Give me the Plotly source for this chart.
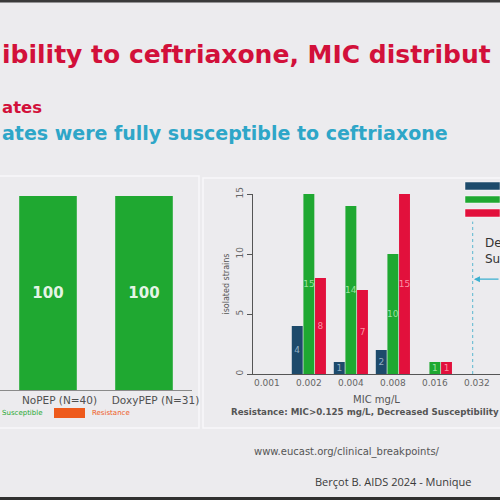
import plotly.graph_objects as go

# ---------------- data ----------------
left_categories = ["NoPEP (N=40)", "DoxyPEP (N=31)"]
left_susceptible = [100, 100]
left_resistance = [0, 0]

mic_categories = ["0.001", "0.002", "0.004", "0.008", "0.016", "0.032"]
series_blue = [0, 4, 1, 2, 0, 0]
series_green = [0, 15, 14, 10, 1, 0]
series_red = [0, 8, 7, 15, 1, 0]
y_ticks = [0, 5, 10, 15]

BG = "#ecebee"
BLUE = "#1d4a6b"
GREEN = "#1fa831"
RED = "#e2103c"
ORANGE = "#ee5a1c"
TITLE_RED = "#d2103a"
CYAN = "#2ea6c8"


def px(x):
    return x / 500.0


def py(y):
    return 1 - y / 500.0


def lbl(vals):
    return [str(v) if v else "" for v in vals]


left_pos = list(range(len(left_categories)))
LABEL_SHIFT = 0.12  # slide labels sit slightly right of their bars

fig = go.Figure()

# ---- left chart (manually stacked) ----
fig.add_trace(go.Bar(
    x=left_pos, y=left_susceptible, name="Susceptible",
    marker=dict(color=GREEN, line=dict(width=0)),
    width=0.6, offset=-0.3,
    text=[str(v) for v in left_susceptible], textposition="inside",
    insidetextanchor="middle", textangle=0,
    textfont=dict(family="DejaVu Sans", size=15, color="rgba(255,255,255,0.9)", weight="bold"),
    xaxis="x", yaxis="y", showlegend=False,
))
fig.add_trace(go.Bar(
    x=left_pos, y=left_resistance, base=left_susceptible, name="Resistance",
    marker=dict(color=ORANGE, line=dict(width=0)),
    width=0.6, offset=-0.3,
    xaxis="x", yaxis="y", showlegend=False,
))

# ---- right chart (grouped) ----
for vals, col, tcol in [(series_blue, BLUE, "rgba(170,195,215,0.85)"),
                        (series_green, GREEN, "rgba(190,240,190,0.8)"),
                        (series_red, RED, "rgba(255,170,185,0.85)")]:
    fig.add_trace(go.Bar(
        x=mic_categories, y=vals,
        marker=dict(color=col, line=dict(width=0)),
        text=lbl(vals), textposition="inside", insidetextanchor="middle",
        textangle=0, constraintext="none",
        textfont=dict(family="DejaVu Sans", size=9, color=tcol),
        xaxis="x2", yaxis="y2", showlegend=False,
    ))

fig.update_layout(
    width=500, height=500,
    margin=dict(l=0, r=0, t=0, b=0, autoexpand=False),
    paper_bgcolor=BG, plot_bgcolor="rgba(0,0,0,0)",
    barmode="group", bargap=0.17, bargroupgap=0.06,
    xaxis=dict(domain=[0, px(192)], type="linear", range=[-0.5, 1.5],
               tickvals=[p + LABEL_SHIFT for p in left_pos], ticktext=left_categories,
               showline=True, linecolor="#8a8a8a", linewidth=1,
               showgrid=False, ticks="", zeroline=False, automargin=False,
               tickfont=dict(family="DejaVu Sans", size=10.5, color="#505050"),
               anchor="y"),
    yaxis=dict(domain=[py(390), py(196)], range=[0, 100], visible=False,
               automargin=False, anchor="x"),
    xaxis2=dict(domain=[px(253), 1.0], type="category",
                range=[-0.33, 5.55], automargin=False,
                showline=True, linecolor="#555", linewidth=1,
                showgrid=False, ticks="", zeroline=False,
                tickfont=dict(family="DejaVu Sans", size=9, color="#666"),
                title=dict(text="MIC mg/L", standoff=9,
                           font=dict(family="DejaVu Sans", size=10, color="#555")),
                anchor="y2"),
    yaxis2=dict(domain=[py(374), py(194)], range=[0, 15], automargin=False,
                tickvals=y_ticks, tickangle=-90,
                showline=True, linecolor="#555", linewidth=1,
                ticks="outside", ticklen=5, tickcolor="#555",
                showgrid=False, zeroline=False,
                tickfont=dict(family="DejaVu Sans", size=9, color="#666"),
                title=dict(text="isolated strains", standoff=4,
                           font=dict(family="DejaVu Sans", size=8, color="#555")),
                anchor="x2"),
)

shapes = []
# dark bars top & bottom (photo frame)
shapes.append(dict(type="rect", xref="paper", yref="paper", x0=0, x1=1,
                   y0=py(2.5), y1=1, fillcolor="#3a3a3a", line=dict(width=0), layer="above"))
shapes.append(dict(type="rect", xref="paper", yref="paper", x0=0, x1=1,
                   y0=0, y1=py(497), fillcolor="#303030", line=dict(width=0), layer="above"))
# faint panel borders
shapes.append(dict(type="path", xref="paper", yref="paper",
                   path=f"M 0 {py(176)} L {px(199)} {py(176)} L {px(199)} {py(428)} L 0 {py(428)}",
                   line=dict(color="#f8f8fa", width=1.5), layer="below"))
shapes.append(dict(type="path", xref="paper", yref="paper",
                   path=f"M 1 {py(178)} L {px(203)} {py(178)} L {px(203)} {py(428)} L 1 {py(428)}",
                   line=dict(color="#f8f8fa", width=1.5), layer="below"))
# threshold dotted line
shapes.append(dict(type="line", xref="x2", yref="y2", x0=4.9, x1=4.9, y0=0, y1=12.7,
                   line=dict(color="#5bb8d0", width=1, dash="dot")))
# right legend swatches
for y0, y1, col in [(182, 190, BLUE), (196, 203, GREEN), (209, 217, RED)]:
    shapes.append(dict(type="rect", xref="paper", yref="paper", x0=px(465), x1=1,
                       y0=py(y1), y1=py(y0), fillcolor=col,
                       line=dict(color="rgba(255,255,255,0.6)", width=0.8)))
# left legend swatch (Resistance)
shapes.append(dict(type="rect", xref="paper", yref="paper", x0=px(54), x1=px(85),
                   y0=py(418), y1=py(408), fillcolor=ORANGE, line=dict(width=0)))
fig.update_layout(shapes=shapes)

ann = []
ann.append(dict(text="<b>ibility to ceftriaxone, MIC distribut</b>", xref="paper", yref="paper",
                x=0, y=py(55), xanchor="left", yanchor="middle", showarrow=False,
                font=dict(family="DejaVu Sans", size=25, color=TITLE_RED)))
ann.append(dict(text="<b>ates</b>", xref="paper", yref="paper",
                x=0, y=py(108), xanchor="left", yanchor="middle", showarrow=False,
                font=dict(family="DejaVu Sans", size=16.5, color=TITLE_RED)))
ann.append(dict(text="<b>ates were fully susceptible to ceftriaxone</b>", xref="paper", yref="paper",
                x=0, y=py(133), xanchor="left", yanchor="middle", showarrow=False,
                font=dict(family="DejaVu Sans", size=19, color=CYAN)))
# left legend texts
ann.append(dict(text="Susceptible", xref="paper", yref="paper", x=0, y=py(413),
                xanchor="left", yanchor="middle", showarrow=False,
                font=dict(family="DejaVu Sans", size=7, color=GREEN)))
ann.append(dict(text="Resistance", xref="paper", yref="paper", x=px(90), y=py(413),
                xanchor="left", yanchor="middle", showarrow=False,
                font=dict(family="DejaVu Sans", size=7, color=ORANGE)))
# right annotations
ann.append(dict(text="Decreased<br>Susceptibility", xref="paper", yref="paper",
                x=px(483), y=py(251), xanchor="left", yanchor="middle", showarrow=False,
                align="left",
                font=dict(family="DejaVu Sans", size=12, color="#333")))
ann.append(dict(text="", xref="x2", yref="y2", x=4.93, y=7.9,
                ax=40, ay=0, axref="pixel", ayref="pixel",
                showarrow=True, arrowhead=2, arrowsize=1, arrowwidth=1.2,
                arrowcolor="#3ab0d0"))
ann.append(dict(text="<b>Resistance: MIC&gt;0.125 mg/L, Decreased Susceptibility</b>",
                xref="paper", yref="paper", x=px(229), y=py(412), xanchor="left",
                yanchor="middle", showarrow=False,
                font=dict(family="DejaVu Sans", size=8.7, color="#555")))
ann.append(dict(text="www.eucast.org/clinical_breakpoints/",
                xref="paper", yref="paper", x=px(252), y=py(452), xanchor="left",
                yanchor="middle", showarrow=False,
                font=dict(family="DejaVu Sans", size=10, color="#555")))
ann.append(dict(text="Berçot B. AIDS 2024 - Munique",
                xref="paper", yref="paper", x=px(313), y=py(481), xanchor="left",
                yanchor="middle", showarrow=False,
                font=dict(family="Open Sans", size=11, color="#3a3a3a")))
fig.update_layout(annotations=ann)

fig.write_html("out.html")
